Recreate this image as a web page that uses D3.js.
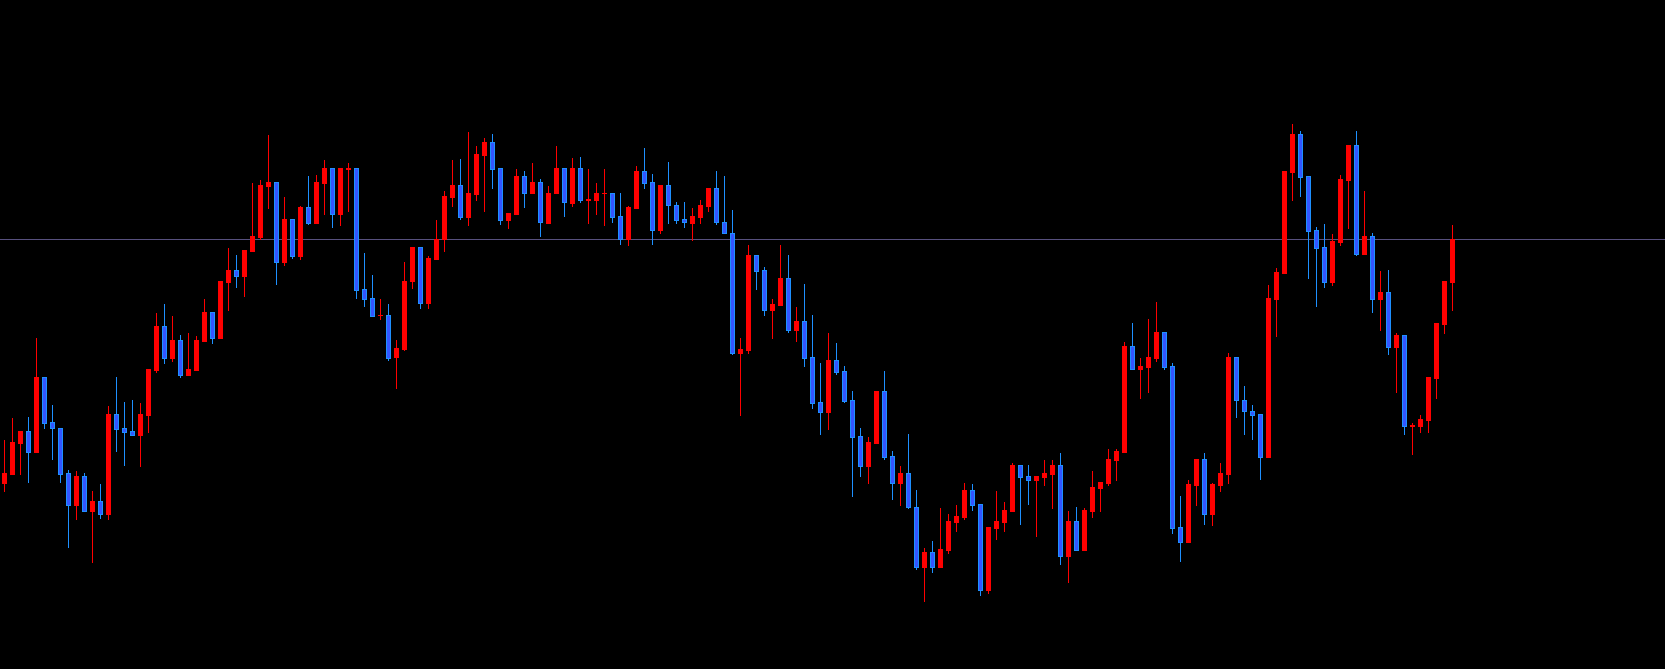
<!DOCTYPE html>
<html><head><meta charset="utf-8">
<script src="https://cdn.jsdelivr.net/npm/d3@7"></script>
<style>html,body{margin:0;padding:0;background:#000;overflow:hidden}svg{display:block}</style>
</head><body><svg id="chart" width="1665" height="669"></svg>
<script>
// OHLC series (arbitrary price units)
const open = [186.3,195.3,226.3,238,217.3,292,247,240.7,196,164.3,193,158.3,168,155.3,255,241,238,234,254,299,343,311,329,294,299,328,357,331,387,399,393.3,418,432.3,483.3,487,407.3,450,413.3,462,446,486.3,501,455.3,500.5,501,380,371,353.5,354,312,320,388,422,366.4,410.3,429.7,472.3,484,452.3,475.3,514.3,527,501,449.3,455.3,493,475.7,487,446.3,475.7,501,466.3,501,469.2,469.3,475.5,476,453,429.7,461.3,498,487,438.7,484,464,450,446.3,452.3,463.3,481,447,436,316.3,319.3,414,399,359.3,364,391,339.3,348,312,267,257.3,309,298,269,233,203.3,226.3,278,213,186.3,196.3,162,102.3,117,102.3,119.3,147.3,152.3,179,165,79.3,141.3,147.3,158.3,204,193,189.3,192.3,195.3,204,113.3,148,119.3,158.3,181.3,186.3,209.3,217.3,322.7,299.7,302.3,311.3,337,303,142,127.3,184.3,210,155.3,184.3,195.3,312,269,258,255,212.3,370.3,396.3,497.3,535,493,439,422,387.3,427.3,489.3,524,415.3,433,370.3,377,322.3,334,243.3,243.3,249.3,291.3,345.3,387.3];
const high = [229,251,238,252,331,292,264,240.7,199,198,196,178,185,263,292,267,269,266,300,356,365,353,334,336,333,370,357,388,421,414,419,486,489,534,487,472,450,463,493,494,509,501,501,506,501,416,394,370,365,329,407,422,422,413,449,478,509,510,537,523,531,535,501,456,500,498,506,490,483,523,501,511,512,500,486,500,476,476,463,503,521,495,484,507,467,467,461,469,481,498,493,459,331,424,414,402,370,424,414,362,385,354,306,336,326,303,278,241,232,278,298,218,203,235,179,121,128,161,155,164,186,185,165,142,178,167,206,204,204,193,209,209,216,158,162,161,198,187,220,220,327,346,311,350,367,337,306,173.3,189,210,216.3,186.3,206.3,316,312,283,264,255,384,401,498,545,538,493,442,445,435,494,524,538,478,436,398,399,336,334,246.3,254.3,292,346,388,444];
const low = [178.3,195.3,195.3,187.3,217.3,241.3,210.3,187.3,122.3,150.3,158.3,107.3,151.3,150.3,218.3,204.3,234,203,237.3,297.3,306.3,308.3,292.3,294,299,328,326.3,331,359,382.3,373.3,418,429.7,461.3,385.3,404.3,411.3,410.3,445.3,446,455.3,442.3,444.3,458.3,371.3,363.3,353.3,350.3,309.3,281,319,381,361,361,410.3,418.3,463.3,450.3,444.3,469.3,458.3,481.3,445.3,441.3,455.3,462.3,475.7,433.3,446.3,475.7,453.3,463.3,467.3,446.3,455.3,444.3,447.3,425.3,424.3,461.3,481.3,425.3,435.7,445.7,445.7,442.3,429.3,446.3,458,445.3,435.7,315.3,254,316.3,380.3,354.3,331.3,364,337.3,328.3,303.3,261.3,235.3,240.3,295.3,267.3,173.3,193.3,186.3,226.3,210.3,170.3,164,161.3,100.3,68.3,97.3,102.3,116.3,138.3,150.3,159.3,74.3,76.3,130.3,138.3,158.3,145.3,165.3,133.3,184.3,161.3,105.3,87.3,119.3,119.3,152.3,158.3,184.3,189.3,217.3,299.7,271.3,277.3,308.3,300.3,136.3,108.3,127.3,164.3,145.3,144.3,178.3,186.3,252.3,235.3,230.3,190.3,212.3,333.3,396.3,469.3,473.3,391.3,363.3,382.3,384.3,424.3,441.3,414.3,415.3,357.3,339.3,315.3,277.3,235.3,215.3,237.3,237.3,271.3,336.3,359.3];
const close = [196,227,238,217.3,292,246.3,240.7,195.3,164.3,193,158.3,168,155.3,255,240.3,237.3,234,255,300,343,311,329,294,300,329,357,331,388,399,393.3,419,433,484,487,407.3,450,413.3,462,446,487,501,455.3,501,501.5,379.3,370.3,353.3,354.5,311.3,321,388,422,366.4,411,430,473,484,452.3,476,515,527,500.3,449.3,456,493,475.5,487,446.7,476,501,466.7,501,469.3,470.2,476,476.5,452.3,429.7,462,498,486.3,438.7,484,463.7,449.3,446.7,453,464,481,446.7,435.7,316.3,320,414,398.3,359.3,365,391,339.3,348,311.3,266.3,257.3,309,297.3,268.3,232.3,203.3,227,278,212.3,186.3,196.3,161.7,102.3,117,102.3,120,148,153,179,164.3,79.3,142,148,159,204,192.3,189.3,193,196,204,113.3,148,119.3,159,182,187,210,218,323,299.7,303,312,337,302.3,141.3,127.3,185,210,155.3,185.3,196,312,268.7,257.7,254.3,212.3,371,397,498,535,492.3,438.3,421.3,387.3,428,490,524,415.3,433,370.3,377,322.3,334,243.3,244.3,250.3,292,346,388,430];

const W = 1665, H = 669;
const svg = d3.select('#chart');
svg.append('rect').attr('width', W).attr('height', H).attr('fill', '#000');

const idx = d3.range(open.length);
const x = d3.scaleLinear().domain([0, open.length - 1]).range([4.5, 4.5 + 8 * (open.length - 1)]);
const y = d3.scaleLinear().domain([0, 669]).range([669, 0]);

const upCol = '#ff0000', downFill = '#3355ff', downStroke = '#1e90ff';
const bodyW = 5;

// bid line at last close
const lastY = Math.round(y(close[close.length - 1])) + 0.5;
svg.append('line').attr('x1', 0).attr('x2', W).attr('y1', lastY).attr('y2', lastY)
  .attr('stroke', '#57507e').attr('stroke-width', 1);

const g = svg.append('g');
const c = g.selectAll('g.c').data(idx).enter().append('g');
c.append('line')
  .attr('x1', i => x(i)).attr('x2', i => x(i))
  .attr('y1', i => Math.round(y(high[i])))
  .attr('y2', i => Math.round(y(low[i])) + 1)
  .attr('stroke', i => close[i] >= open[i] ? upCol : downStroke)
  .attr('stroke-width', 1);
c.append('rect')
  .attr('x', i => {
    const up = close[i] >= open[i];
    return x(i) - bodyW / 2 + (up ? 0 : 0.5);
  })
  .attr('width', i => close[i] >= open[i] ? bodyW : bodyW - 1)
  .attr('y', i => {
    const top = Math.round(y(Math.max(open[i], close[i])));
    return top + (close[i] >= open[i] ? 0 : 0.5);
  })
  .attr('height', i => {
    const top = Math.round(y(Math.max(open[i], close[i])));
    const bot = Math.round(y(Math.min(open[i], close[i])));
    const h = Math.max(1, bot - top + 1);
    return close[i] >= open[i] ? h : Math.max(1, h - 1);
  })
  .attr('fill', i => close[i] >= open[i] ? upCol : downFill)
  .attr('stroke', i => close[i] >= open[i] ? 'none' : downStroke)
  .attr('stroke-width', 1);
</script>
</body></html>
